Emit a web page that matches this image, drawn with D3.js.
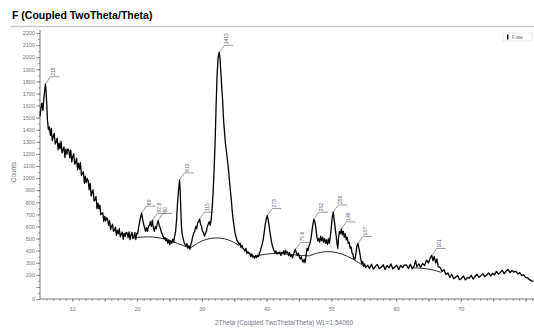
<!DOCTYPE html>
<html>
<head>
<meta charset="utf-8">
<script src="https://cdn.jsdelivr.net/npm/d3@7"></script>
<style>
  body { margin: 0; background: #fff; }
  svg { display: block; font-family: 'Liberation Sans', Arial, sans-serif; }
</style>
</head>
<body>
<svg id="xrd"></svg>
<script>
// measured pattern, [2theta, counts]
const pattern = [
  [5.0,1510],[5.15,1580],[5.3,1620],[5.45,1560],[5.6,1660],[5.75,1740],[5.85,1780],[5.95,1700],[6.05,1610],[6.15,1480],
  [6.3,1400],[6.45,1422],[6.6,1354],[6.75,1411],[6.9,1309],[7.05,1345],[7.2,1369],[7.35,1283],[7.5,1297],[7.65,1331],
  [7.8,1235],[7.95,1289],[8.1,1243],[8.25,1305],[8.4,1208],[8.55,1235],[8.7,1258],[8.85,1170],[9.0,1240],[9.15,1198],
  [9.3,1242],[9.45,1230],[9.6,1168],[9.75,1231],[9.9,1134],[10.05,1177],[10.2,1201],[10.35,1115],[10.5,1130],[10.65,1164],
  [10.8,1069],[10.95,1123],[11.1,1074],[11.25,1128],[11.4,1021],[11.55,1040],[11.7,1053],[11.85,957],[12.0,1015],[12.15,963],
  [12.3,997],[12.45,975],[12.6,904],[12.75,957],[12.9,851],[13.05,884],[13.2,903],[13.35,811],[13.5,820],[13.65,848],
  [13.8,747],[13.95,795],[14.1,745],[14.25,777],[14.4,698],[14.55,707],[14.7,713],[14.85,641],[15.0,683],[15.15,647],
  [15.3,672],[15.45,658],[15.6,609],[15.75,647],[15.9,574],[16.05,600],[16.2,618],[16.35,559],[16.5,569],[16.65,594],
  [16.8,527],[16.95,567],[17.1,538],[17.25,582],[17.4,515],[17.55,536],[17.7,554],[17.85,494],[18.0,543],[18.15,517],
  [18.3,551],[18.45,547],[18.6,507],[18.75,555],[18.9,492],[19.05,527],[19.2,552],[19.35,499],[19.5,517],[19.65,550],
  [19.8,492],[19.95,542],[20.1,540],[20.25,600],[20.4,640],[20.55,680],[20.7,710],[20.85,660],[21.0,620],[21.15,590],
  [21.3,560],[21.45,590],[21.6,560],[21.75,600],[21.9,610],[22.05,640],[22.2,600],[22.35,650],[22.5,590],[22.65,560],
  [22.8,600],[22.95,580],[23.1,620],[23.25,650],[23.4,610],[23.55,590],[23.7,560],[23.85,540],[24.0,520],[24.15,500],
  [24.3,510],[24.45,480],[24.6,500],[24.75,460],[24.9,490],[25.05,450],[25.2,480],[25.35,460],[25.5,495],[25.65,470],
  [25.8,520],[25.95,560],[26.1,660],[26.25,800],[26.4,900],[26.55,985],[26.65,900],[26.75,740],[26.85,600],[26.95,540],
  [27.1,500],[27.25,470],[27.4,450],[27.55,440],[27.7,460],[27.85,420],[28.0,440],[28.15,410],[28.3,450],[28.45,480],
  [28.6,520],[28.75,545],[28.9,560],[29.05,600],[29.2,580],[29.35,630],[29.5,640],[29.65,660],[29.8,620],[29.95,600],
  [30.1,560],[30.25,550],[30.4,520],[30.55,540],[30.7,560],[30.85,600],[31.0,620],[31.15,640],[31.3,610],[31.45,660],
  [31.6,760],[31.75,900],[31.9,1080],[32.05,1300],[32.2,1600],[32.35,1850],[32.5,1990],[32.6,2030],[32.7,2040],[32.8,1990],
  [32.9,1900],[33.0,1820],[33.1,1720],[33.2,1650],[33.35,1480],[33.5,1380],[33.65,1280],[33.8,1220],[33.95,1150],[34.1,1080],
  [34.25,980],[34.4,900],[34.55,820],[34.7,720],[34.85,650],[35.0,590],[35.15,540],[35.3,510],[35.45,480],[35.6,470],
  [35.75,450],[35.9,462],[36.05,425],[36.2,444],[36.35,418],[36.5,412],[36.65,398],[36.8,418],[36.95,376],[37.1,392],
  [37.25,377],[37.4,382],[37.55,350],[37.7,372],[37.85,348],[38.0,356],[38.15,336],[38.3,360],[38.45,343],[38.6,362],
  [38.75,350],[38.9,380],[39.05,400],[39.2,430],[39.35,460],[39.5,500],[39.65,560],[39.8,620],[39.95,660],[40.1,690],
  [40.25,650],[40.4,600],[40.55,540],[40.7,490],[40.85,450],[41.0,420],[41.15,400],[41.3,380],[41.45,398],[41.6,372],
  [41.75,384],[41.9,376],[42.05,390],[42.2,360],[42.35,386],[42.5,375],[42.65,398],[42.8,368],[42.95,402],[43.1,382],
  [43.25,390],[43.4,358],[43.55,384],[43.7,352],[43.85,366],[44.0,340],[44.15,370],[44.3,390],[44.45,410],[44.6,380],
  [44.75,360],[44.9,380],[45.05,350],[45.2,330],[45.35,350],[45.5,320],[45.65,305],[45.8,330],[45.95,300],[46.1,360],
  [46.25,420],[46.4,400],[46.55,440],[46.7,460],[46.85,500],[47.0,560],[47.15,620],[47.3,660],[47.45,640],[47.6,590],
  [47.75,520],[47.9,480],[48.05,500],[48.2,470],[48.35,520],[48.5,480],[48.65,510],[48.8,470],[48.95,500],[49.1,460],
  [49.25,490],[49.4,450],[49.55,500],[49.7,460],[49.85,520],[50.0,600],[50.15,680],[50.3,720],[50.45,650],[50.6,580],
  [50.75,520],[50.9,450],[51.0,420],[51.1,500],[51.25,560],[51.4,540],[51.55,580],[51.7,530],[51.85,560],[52.0,510],
  [52.15,540],[52.3,490],[52.45,510],[52.6,460],[52.75,470],[52.9,420],[53.05,430],[53.2,380],[53.35,370],[53.5,330],
  [53.65,330],[53.8,380],[53.95,440],[54.1,460],[54.25,420],[54.4,380],[54.55,330],[54.7,290],[54.85,310],[55.0,270],
  [55.15,290],[55.3,260],[55.6,280],[55.9,253],[56.2,287],[56.5,247],[56.8,270],[57.1,285],[57.4,250],[57.7,262],
  [58.0,283],[58.3,245],[58.6,275],[58.9,257],[59.2,290],[59.5,249],[59.8,265],[60.1,279],[60.4,243],[60.7,277],
  [61.0,260],[61.3,283],[61.6,280],[61.9,253],[62.2,287],[62.5,250],[62.8,275],[63.0,320],[63.2,268],[63.5,290],
  [63.8,262],[64.1,294],[64.4,276],[64.7,322],[65.0,298],[65.3,342],[65.5,362],[65.7,318],[65.9,352],[66.1,298],
  [66.3,332],[66.5,268],[66.8,262],[67.1,228],[67.4,242],[67.7,203],[68.0,216],[68.3,178],[68.6,205],[68.9,168],
  [69.2,182],[69.5,195],[69.8,160],[70.1,170],[70.4,190],[70.7,158],[71.0,176],[71.3,172],[71.6,196],[71.9,165],
  [72.2,188],[72.5,205],[72.8,180],[73.1,193],[73.4,210],[73.7,185],[74.0,198],[74.3,215],[74.6,190],[74.9,212],
  [75.2,200],[75.5,228],[75.8,205],[76.1,220],[76.4,238],[76.7,210],[77.0,232],[77.3,245],[77.6,218],[77.9,236],
  [78.2,222],[78.5,230],[78.8,208],[79.1,218],[79.4,195],[79.7,200],[80.0,178],[80.3,175],[80.6,160],[80.9,150],
  [81.2,145]
];

// fitted background arcs under the peaks
const background1 = [[19.5,505],[21.0,515],[22.5,515],[24.0,500],[25.5,475],[27.0,445],[28.2,420]];
const background2 = [[28.2,420],[29.5,470],[30.8,498],[32.2,508],[33.5,500],[34.7,478],[35.8,440]];
const background3 = [[37.8,345],[39.0,365],[40.5,375],[42.0,378],[43.5,370],[45.0,360],[46.6,357]];
const background4 = [[46.6,357],[48.0,385],[49.5,395],[51.0,385],[52.5,355],[54.0,310],[55.0,272]];
const background5 = [[62.5,258],[64.0,255],[65.5,245],[67.0,220]];

// peak marks: [2theta, counts, label]
const peaks = [
  [5.85,1780,'218'],[20.7,710,'69'],[22.35,650,'92.9'],[23.25,650,'60'],[26.55,985,'913'],
  [29.65,660,'115'],[32.7,2040,'1415'],[40.1,690,'273'],[44.45,410,'75.6'],[47.3,660,'252'],
  [50.3,720,'258'],[51.55,580,'149'],[54.1,460,'157'],[65.5,360,'101']
];

const xTickLabels = [10, 20, 30, 40, 50, 60, 70];
const yTickLabels = [0, 200, 300, 400, 500, 600, 700, 800, 900, 1000, 1100, 1200,
  1300, 1400, 1500, 1600, 1700, 1800, 1900, 2000, 2100, 2200];

class XrdChart {
  constructor(id) {
    this.width = 534;
    this.height = 330;
    this.svg = d3.select('#' + id).attr('width', this.width).attr('height', this.height);
    this.x = d3.scaleLinear().domain([5, 81.3]).range([40, 534]);
    this.y = d3.scaleLinear().domain([0, 2200]).range([299, 33]);
    this.tickColor = '#6f7486';
  }

  drawTitle() {
    this.svg.append('text')
      .attr('x', 12).attr('y', 19)
      .style('font-size', '10.5px').style('font-weight', 'bold')
      .text('F (Coupled TwoTheta/Theta)');
    this.svg.append('line')
      .attr('x1', 10).attr('x2', this.width).attr('y1', 26.5).attr('y2', 26.5)
      .attr('stroke', '#c8c8c8').attr('stroke-width', 1.5);
  }

  drawAxes() {
    const x = this.x, y = this.y;
    const fmt = d3.format('d');
    // y axis: minor ticks every 50, major every 100
    this.svg.append('g').attr('class', 'ticks').attr('transform', 'translate(40,0)')
      .call(d3.axisLeft(y).tickValues(d3.range(0, 2201, 50)).tickSize(2).tickFormat(''));
    this.svg.append('g').attr('class', 'ticks').attr('transform', 'translate(40,0)')
      .call(d3.axisLeft(y).tickValues(d3.range(0, 2201, 100)).tickSize(4).tickFormat(''));
    this.svg.append('g').attr('class', 'labels').attr('transform', 'translate(40,0)')
      .call(d3.axisLeft(y).tickValues(yTickLabels).tickSize(0).tickPadding(5).tickFormat(fmt));

    // x axis
    this.svg.append('g').attr('class', 'ticks').attr('transform', 'translate(0,299)')
      .call(d3.axisBottom(x).tickValues(d3.range(6, 82, 1)).tickSize(2).tickFormat(''));
    this.svg.append('g').attr('class', 'ticks').attr('transform', 'translate(0,299)')
      .call(d3.axisBottom(x).tickValues(d3.range(10, 81, 5)).tickSize(3).tickFormat(''));
    this.svg.append('g').attr('class', 'labels').attr('transform', 'translate(0,299)')
      .call(d3.axisBottom(x).tickValues(xTickLabels).tickSize(0).tickPadding(8).tickFormat(fmt));

    this.svg.selectAll('.domain').remove();
    this.svg.append('path').attr('d', 'M40,30V299H534')
      .attr('fill', 'none').attr('stroke', '#555').attr('stroke-width', 0.8);

    this.svg.selectAll('.tick line').attr('stroke', '#666').attr('stroke-width', 0.6);
    this.svg.selectAll('.tick text')
      .attr('fill', this.tickColor).style('font-size', '5.5px')
      .style('font-family', 'Liberation Sans, Arial, sans-serif');

    this.svg.append('text')
      .attr('transform', 'translate(16,172) rotate(-90)')
      .attr('text-anchor', 'middle')
      .attr('fill', this.tickColor).style('font-size', '6.5px')
      .text('Counts');
    this.svg.append('text')
      .attr('x', 284).attr('y', 325)
      .attr('text-anchor', 'middle')
      .attr('fill', this.tickColor).style('font-size', '6.5px')
      .text('2Theta (Coupled TwoTheta/Theta) WL=1.54060');
  }

  drawPlot() {
    const x = this.x, y = this.y;
    const line = d3.line().x(d => x(d[0])).y(d => y(d[1]));
    const smooth = d3.line().x(d => x(d[0])).y(d => y(d[1])).curve(d3.curveBasis);

    this.svg.selectAll('path.bg')
      .data([background1, background2, background3, background4, background5])
      .enter().append('path')
      .attr('class', 'bg')
      .attr('d', smooth)
      .attr('fill', 'none').attr('stroke', '#111').attr('stroke-width', 0.9);

    this.svg.append('path')
      .datum(pattern)
      .attr('d', line)
      .attr('fill', 'none').attr('stroke', '#000').attr('stroke-width', 1.3)
      .attr('stroke-linejoin', 'round');
  }

  drawPeaks() {
    const x = this.x, y = this.y;
    const marks = this.svg.selectAll('g.peak').data(peaks).enter()
      .append('g').attr('class', 'peak')
      .attr('transform', d => 'translate(' + x(d[0]) + ',' + y(d[1]) + ')');
    marks.append('path')
      .attr('d', 'M0,0L5,-7H14')
      .attr('fill', 'none').attr('stroke', '#555').attr('stroke-width', 0.6);
    marks.append('text')
      .attr('transform', 'translate(9,-8) rotate(-90)')
      .attr('fill', '#5a6280').style('font-size', '5px')
      .text(d => d[2]);
  }

  drawLegend() {
    const g = this.svg.append('g').attr('transform', 'translate(503,33)');
    g.append('rect').attr('width', 29).attr('height', 8)
      .attr('fill', '#fff').attr('stroke', '#ddd').attr('stroke-width', 0.6);
    g.append('rect').attr('x', 4).attr('y', 1.5).attr('width', 1.4).attr('height', 5).attr('fill', '#000');
    g.append('text').attr('x', 9).attr('y', 6)
      .attr('fill', '#666').style('font-size', '4.5px').text('F.raw');
  }

  render() {
    this.drawTitle();
    this.drawAxes();
    this.drawPlot();
    this.drawPeaks();
    this.drawLegend();
  }
}

new XrdChart('xrd').render();
</script>
</body>
</html>
